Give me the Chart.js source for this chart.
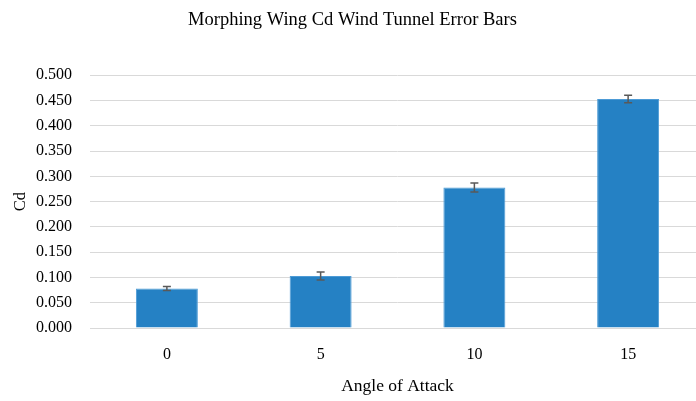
<!DOCTYPE html>
<html>
<head>
<meta charset="utf-8">
<script src="https://cdn.jsdelivr.net/npm/chart.js@4"></script>
<style>
  html, body { margin: 0; padding: 0; background: #fff; overflow: hidden; }
  #wrap { width: 712px; height: 401px; }
</style>
</head>
<body>
<div id="wrap"><canvas id="chart" width="712" height="401"></canvas></div>
<script>
const angles = ['0', '5', '10', '15']
const cd = [0.078, 0.103, 0.278, 0.453]
const cdError = [0.004, 0.008, 0.009, 0.0075]
const yTicks = [0, 0.05, 0.1, 0.15, 0.2, 0.25, 0.3, 0.35, 0.4, 0.45, 0.5]

const serif = "'Liberation Serif', 'DejaVu Serif', serif"

// draws the error whiskers through the chart's own scales
const errorBars = {
  id: 'errorBars',
  afterDatasetsDraw(chart) {
    const ctx = chart.ctx
    const meta = chart.getDatasetMeta(0)
    const y = chart.scales.y
    ctx.save()
    ctx.strokeStyle = '#595959'
    ctx.lineWidth = 1.5
    meta.data.forEach((bar, i) => {
      const top = y.getPixelForValue(cd[i] + cdError[i])
      const bottom = y.getPixelForValue(cd[i] - cdError[i])
      const x = bar.x
      ctx.beginPath()
      ctx.moveTo(x, top)
      ctx.lineTo(x, bottom)
      ctx.moveTo(x - 4, top)
      ctx.lineTo(x + 4, top)
      ctx.moveTo(x - 4, bottom)
      ctx.lineTo(x + 4, bottom)
      ctx.stroke()
    })
    ctx.restore()
  }
}

new Chart(document.getElementById('chart'), {
  type: 'bar',
  data: {
    labels: angles,
    datasets: [
      {
        label: 'Cd',
        data: cd,
        backgroundColor: '#2581c4',
        borderColor: '#4d9bd6',
        borderWidth: 1,
        categoryPercentage: 1,
        barPercentage: 0.403,
      },
    ],
  },
  options: {
    responsive: false,
    animation: false,
    layout: { padding: { left: 0, right: 7, top: 0, bottom: 0 } },
    plugins: {
      legend: { display: false },
      tooltip: { enabled: false },
      title: {
        display: true,
        text: 'Morphing Wing Cd Wind Tunnel Error Bars',
        color: '#000',
        font: { family: serif, size: 18.5, weight: 'normal' },
        padding: { top: 9, bottom: 44 },
      },
    },
    scales: {
      x: {
        grid: { display: false, drawTicks: false },
        border: { color: '#d9d9d9', width: 1 },
        ticks: { color: '#000', padding: 17, font: { family: serif, size: 16 } },
        title: {
          display: true,
          text: 'Angle of Attack',
          color: '#000',
          font: { family: serif, size: 17.5 },
          padding: { top: 12, bottom: 4 },
        },
        afterFit(scale) { scale.height = 73 },
      },
      y: {
        min: 0,
        max: 0.5,
        afterBuildTicks(scale) { scale.ticks = yTicks.map(v => ({ value: v })) },
        grid: { color: '#d9d9d9', lineWidth: 1, drawTicks: false },
        border: { display: false },
        ticks: {
          color: '#000',
          padding: 18,
          font: { family: serif, size: 16 },
          callback: v => v.toFixed(3),
        },
        title: {
          display: true,
          text: 'Cd',
          color: '#000',
          font: { family: serif, size: 16.5 },
          padding: { top: 11, bottom: 0 },
        },
        afterFit(scale) { scale.width = 90 },
      },
    },
  },
  plugins: [errorBars],
})
</script>
</body>
</html>
